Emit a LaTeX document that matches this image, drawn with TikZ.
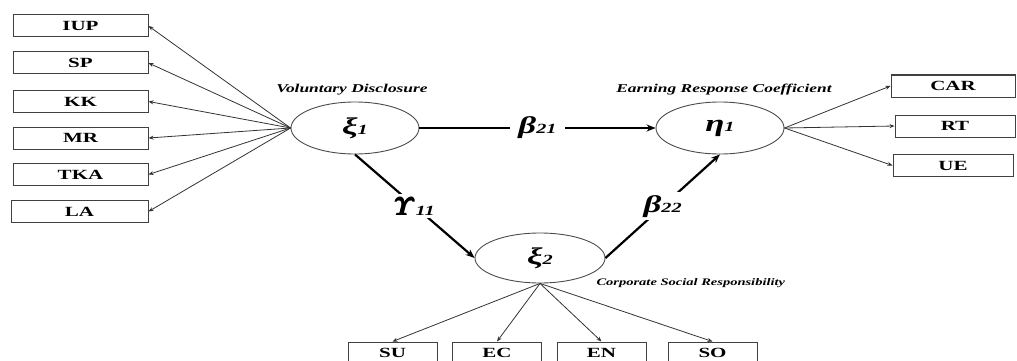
\documentclass[tikz,border=0pt]{standalone}
\usepackage{amsmath}
\usepackage{fontspec}
\setmainfont{Liberation Serif}
\newfontfamily\boxfont[FakeStretch=1.5,BoldFont={Liberation Serif Bold}]{Liberation Serif}
\newfontfamily\labfont[FakeStretch=1.45]{Liberation Serif Bold Italic}
\usetikzlibrary{shapes,arrows.meta}

\newcommand{\lvar}[2]{{\labfont\fontsize{24}{26}\selectfont #1}{\labfont\fontsize{14}{16}\selectfont #2}}
\newcommand{\bUpsilon}{$\pmb{\boldsymbol{\mathchar"0107}}$}

\begin{document}
\begin{tikzpicture}[x=1pt,y=-1pt]
      \tikzstyle{ind}=[rectangle,draw=black!75,line width=1pt,minimum width=135pt,minimum height=22pt,inner sep=0pt,font=\boxfont\fontsize{14}{16}\selectfont\bfseries]
      \tikzstyle{lat}=[ellipse,draw=black!70,line width=0.9pt,minimum width=128pt,minimum height=52pt,inner sep=0pt]
      \tikzstyle{load}=[draw=black!80,line width=0.8pt,-{Stealth[length=5pt,width=4pt]}]
      \tikzstyle{struct}=[draw=black,line width=2.2pt,-{Stealth[length=9pt,width=7pt]}]
      \tikzstyle{coef}=[fill=white,inner sep=3pt]
      \tikzstyle{lab}=[font=\labfont\fontsize{12}{14}\selectfont]
      \useasboundingbox (0,0) rectangle (1017,361);

      \node[lat] (xi1) at (355,128) {\lvar{ξ}{1}};
      \node[lat] (eta1) at (720,128) {\lvar{η}{1}};
      \node[lat,minimum width=130pt,minimum height=50pt] (xi2) at (540,258) {\lvar{ξ}{2}};

      \node[lab] (vd) at (352,90) {Voluntary Disclosure};
      \node[lab] (erc) at (724,90) {Earning Response Coefficient};
      \node[lab,anchor=west,font=\labfont\fontsize{10}{12}\selectfont] (csr) at (593,283) {Corporate Social Responsibility};

      \node[ind] (iup) at (80.5,26) {IUP};
      \node[ind] (sp) at (80.5,63) {SP};
      \node[ind] (kk) at (80.5,101.5) {KK};
      \node[ind] (mr) at (80.5,138) {MR};
      \node[ind] (tka) at (80.5,174.5) {TKA};
      \node[ind,minimum width=137pt] (la) at (79.5,211.5) {LA};

      \node[ind,minimum width=124pt] (car) at (953,86) {CAR};
      \node[ind,minimum width=120pt] (rt) at (955,126) {RT};
      \node[ind,minimum width=120pt] (ue) at (953,165.5) {UE};

      \node[ind,minimum width=89pt] (su) at (392.5,353) {SU};
      \node[ind,minimum width=89pt] (ec) at (497,353) {EC};
      \node[ind,minimum width=89pt] (en) at (601.5,353) {EN};
      \node[ind,minimum width=89pt] (so) at (712.5,353) {SO};

      \draw[load] (xi1.west) -- (iup.east);
      \draw[load] (xi1.west) -- (sp.east);
      \draw[load] (xi1.west) -- (kk.east);
      \draw[load] (xi1.west) -- (mr.east);
      \draw[load] (xi1.west) -- (tka.east);
      \draw[load] (xi1.west) -- (la.east);

      \draw[load] (eta1.east) -- (car.west);
      \draw[load] (eta1.east) -- (rt.west);
      \draw[load] (eta1.east) -- (ue.west);

      \draw[load] (xi2.south) -- (su.north);
      \draw[load] (xi2.south) -- (ec.north);
      \draw[load] (xi2.south) -- (en.north);
      \draw[load] (xi2.south) -- (so.north);

      \draw[struct] (xi1.east) -- node[coef,inner xsep=8pt] {\lvar{β}{21}} (eta1.west);
      \draw[struct] (xi1.south) -- node[coef] {\lvar{\fontsize{24}{26}\selectfont\bUpsilon}{11}} (xi2.west);
      \draw[struct] (xi2.east) -- node[coef] {\lvar{β}{22}} (eta1.south);
\end{tikzpicture}
\end{document}
